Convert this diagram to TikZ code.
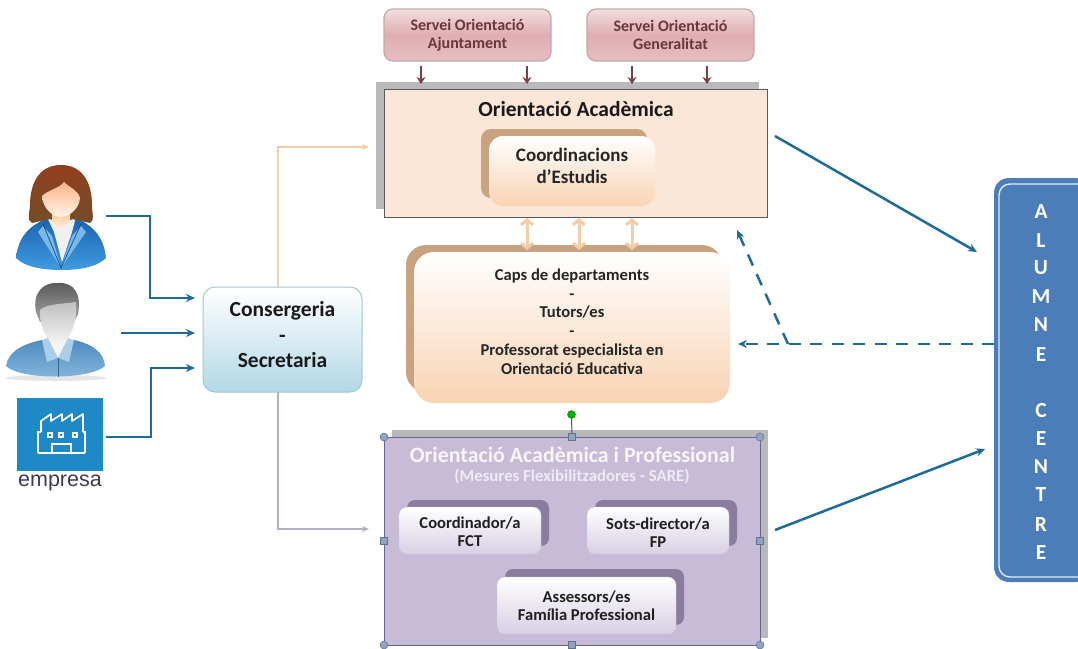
\documentclass[tikz,border=0pt]{standalone}
\usepackage{fontspec}
\setmainfont{Carlito}[Ligatures=TeX]
\newfontfamily\arialfont{Liberation Sans}
\usetikzlibrary{arrows.meta,calc}
\definecolor{flow}{HTML}{1F6B9A}
\definecolor{linkor}{HTML}{F3CDA6}
\definecolor{linkpu}{HTML}{B5ADCF}
\definecolor{wine}{HTML}{7A4048}
\definecolor{shgray}{HTML}{B9B9BB}
\definecolor{orpale}{HTML}{FCE6D8}
\definecolor{pupale}{HTML}{C7BBD8}
\definecolor{pudark}{HTML}{8A7C9E}
\definecolor{tanc}{HTML}{C9A27F}
\definecolor{handle}{HTML}{8FA3C2}
\definecolor{alblue}{HTML}{4B7DB8}
\definecolor{suitd}{HTML}{1C62B0}
\definecolor{suitl}{HTML}{3F9BE0}
\definecolor{shirtd}{HTML}{4F8CC0}
\definecolor{shirtl}{HTML}{86B8DE}
\definecolor{rosea}{HTML}{F3DEDF}
\definecolor{roseb}{HTML}{DFAEB2}
\definecolor{rosec}{HTML}{E6BEC1}
\definecolor{teal}{HTML}{B2D8E6}
\definecolor{peach}{HTML}{F9D3B4}
\definecolor{inkgray}{HTML}{3C3C58}
\tikzset{
  x=1pt,y=-1pt,
  topbox/.style={rounded corners=9pt,draw=wine!45,line width=1.2pt,top color=rosea,bottom color=rosec,middle color=roseb,
     font=\bfseries\fontsize{16}{18.5}\selectfont,text=wine!85!black,align=center,inner sep=0pt,minimum width=167pt,minimum height=52pt},
  softor/.style={rounded corners=14pt,top color=white,bottom color=peach,inner sep=0pt,align=center,
     font=\bfseries\fontsize{16.6}{18.8}\selectfont,text=black!85},
  softpu/.style={rounded corners=8pt,top color=white,bottom color=pupale!70!white,draw=pudark!40,line width=.4pt,inner sep=0pt,align=center,
     font=\bfseries\fontsize{16.6}{18}\selectfont,text=black!88,minimum width=#1},
  panelbox/.style={inner sep=0pt,line width=.9pt},
  flowarrow/.style={draw=flow,line width=2.5pt,-{Stealth[length=9pt,width=8pt]}},
  dasharrow/.style={flowarrow,dash pattern=on 12pt off 9.5pt},
  winearrow/.style={draw=wine,line width=2pt,-{Stealth[length=7pt,width=9pt]}},
  duplex/.style={draw=linkor,line width=3pt,{Straight Barb[length=5pt,width=12pt]}-{Straight Barb[length=5pt,width=12pt]}},
  feedor/.style={draw=linkor,line width=2.8pt,-{Stealth[length=7pt,width=6pt]}},
  feedpu/.style={draw=linkpu,line width=2.8pt,-{Stealth[length=7pt,width=6pt]}},
  sq/.style={draw=handle!70!black,fill=handle,line width=.5pt,minimum size=7pt,inner sep=0pt,shape=rectangle},
  circ/.style={draw=handle!70!black,fill=handle,line width=.5pt,minimum size=8pt,inner sep=0pt,shape=circle},
}
\begin{document}
\begin{tikzpicture}
\useasboundingbox (0,0) rectangle (1078,648);
\fill[white] (0,0) rectangle (1078,648);

% --- woman icon
\shade[top color=suitd,bottom color=suitl]
  (16,258) .. controls (18,238) and (28,226) .. (48,218) -- (76,218)
  .. controls (94,226) and (104,238) .. (106,258) .. controls (96,268) and (76,270) .. (62,270)
  .. controls (46,270) and (26,268) .. (16,258) -- cycle;
\fill[suitl!70!white] (43,226) -- (52,236) -- (61,268) -- (38,232) -- cycle;
\fill[suitl!70!white] (81,226) -- (72,236) -- (61,268) -- (86,232) -- cycle;
\fill[black!6] (47,217) -- (61,226) -- (76,217) -- (72,232) -- (62,262) -- (54,232) -- cycle;
\draw[suitd!60!black,line width=.6pt] (43,224) -- (61,268) -- (81,224);
\shade[top color=brown!70!red!70!black,bottom color=brown!60!black]
  (61,165) .. controls (84,165) and (92,185) .. (92,205)
  .. controls (92,214) and (95,220) .. (90,223) -- (72,219) -- (50,219) -- (32,223)
  .. controls (26,220) and (30,212) .. (30,205) .. controls (30,185) and (38,165) .. (61,165) -- cycle;
\shade[top color=orange!45!white,bottom color=orange!15!white]
  (52,210) -- (70,210) -- (70,222) -- (61,228) -- (52,222) -- cycle;
\shade[top color=red!30!orange!45!white,bottom color=orange!10!white]
  (42,196) .. controls (48,190) and (60,188) .. (64,182) .. controls (70,188) and (78,190) .. (80,198)
  .. controls (79,210) and (68,217) .. (61,217) .. controls (53,217) and (43,209) .. (42,196) -- cycle;
% --- man icon
\fill[black!10] (56,378) ellipse (50 and 3);
\shade[top color=shirtd,bottom color=shirtl]
  (6,366) .. controls (8,352) and (22,344) .. (42,340) -- (74,340)
  .. controls (92,344) and (104,352) .. (105,366) .. controls (90,380) and (20,380) .. (6,366) -- cycle;
\fill[black!4] (46,338) -- (58,358) -- (70,338) -- (66,336) -- (50,336) -- cycle;
\fill[shirtl!70!white] (42,340) -- (48,338) -- (58,358) -- (47,362) -- cycle;
\fill[shirtl!70!white] (74,340) -- (68,338) -- (58,358) -- (69,362) -- cycle;
\draw[shirtd!70!black,line width=.6pt] (58,358) -- (58,377);
\shade[top color=black!65,bottom color=black!35]
  (36,312) .. controls (32,292) and (44,282) .. (58,283) .. controls (74,282) and (82,294) .. (78,314)
  -- (74,322) -- (40,322) -- cycle;
\shade[top color=black!25,bottom color=black!4]
  (40,310) .. controls (46,304) and (62,304) .. (76,302) .. controls (78,322) and (70,342) .. (58,344)
  .. controls (46,342) and (40,328) .. (40,310) -- cycle;
% --- factory icon
\fill[cyan!75!blue!90!black] (17,398) rectangle (103,471);
\draw[white,line width=1.7pt,line join=round] (41,432) -- (41,421) -- (51,414) -- (51,421) -- (62,414) -- (62,421) -- (72,414) -- (72,421) -- (83,414) -- (83,432);
\draw[white,line width=1.7pt] (38,453) -- (38,432) -- (41,432) (83,432) -- (85,432) -- (85,453) (38,453) -- (85,453) (52,453) -- (52,444) -- (71,444) -- (71,453);
\foreach \q in {50,61,75} \draw[white,line width=1.1pt] (\q-2,433) rectangle (\q+2,437);
\node[font=\arialfont\fontsize{21.5}{22}\selectfont,text=inkgray,inner sep=0pt] (empresa) at (60,483) {empresa};
\coordinate (wom) at (106,216);
\coordinate (wel1) at (150,216);
\coordinate (man) at (121,333);
\coordinate (fac) at (106,437);
\coordinate (fel1) at (151,437);

% --- consergeria
\node[rounded corners=12pt,draw=teal!80!gray,line width=1pt,top color=white,bottom color=teal,
  minimum width=159pt,minimum height=105pt,inner sep=0pt,align=center,
  font=\bfseries\fontsize{21.5}{25.5}\selectfont,text=black!90] (cons) at (282.5,339.5) {Consergeria\\-\\Secretaria\rule[-10pt]{0pt}{0pt}};

% --- top panel
\fill[shgray] (376,82) rectangle (759,209);
\node[panelbox,draw=black!65,fill=orpale,minimum width=383pt,minimum height=128pt] (oa) at (575.5,153) {};
\node[font=\bfseries\fontsize{21.5}{22}\selectfont,text=black!90,inner sep=0pt] (oat) at (576,109) {Orientació Acadèmica};
\fill[tanc,rounded corners=10pt] (481,129) rectangle (647,198);
\node[softor,minimum width=166pt,minimum height=70pt,font=\bfseries\fontsize{19}{21.5}\selectfont] (coord) at (572,171) {Coordinacions\\d’Estudis\rule[-10pt]{0pt}{0pt}};

% --- service boxes
\node[topbox] (aj) at (467.5,35) {Servei Orientació\\Ajuntament};
\node[topbox] (ge) at (670.5,35) {Servei Orientació\\Generalitat};
\foreach \n/\q in {a/421,b/527}{
  \coordinate (s\n) at (\q,66); \coordinate (t\n) at (\q,84);
  \draw[winearrow] (s\n) -- (t\n);}
\foreach \n/\q in {c/632,d/707}{
  \coordinate (s\n) at (\q,66); \coordinate (t\n) at (\q,84);
  \draw[winearrow] (s\n) -- (t\n);}

% --- middle box
\fill[tanc,rounded corners=20pt] (406,245) rectangle (722,392);
\node[softor,rounded corners=20pt,minimum width=316pt,minimum height=151pt] (caps) at (572,327.5) {Caps de departaments\\-\\Tutors/es\\-\\Professorat especialista en\\Orientació Educativa\rule[-12pt]{0pt}{0pt}};
\foreach \q in {527,579,632}{
  \draw[duplex] (\q,218) -- (\q,250);}

% --- bottom panel
\fill[shgray] (392,430) rectangle (768,638);
\node[panelbox,draw=blue!30!black!60,fill=pupale,minimum width=376pt,minimum height=208pt] (oap) at (572,541) {};
\node[font=\bfseries\fontsize{21.9}{24}\selectfont,text=white!85!pupale,inner sep=0pt] (oapt) at (572.5,455) {Orientació Acadèmica i Professional};
\node[font=\bfseries\fontsize{16.8}{18}\selectfont,text=white!70!pupale,inner sep=0pt] (oaps) at (572,477) {(Mesures Flexibilitzadores - SARE)};
\fill[pudark,rounded corners=8pt] (407,500) rectangle (549,546);
\fill[pudark,rounded corners=8pt] (595,500) rectangle (737,546);
\fill[pudark,rounded corners=8pt] (505,569) rectangle (684,625);
\node[softpu=142pt,minimum height=47pt] (fct) at (470,530.5) {\rule{0pt}{15pt}Coordinador/a\\FCT};
\node[softpu=142pt,minimum height=47pt] (fp) at (658,530.5) {\rule{0pt}{15pt}Sots-director/a\\FP};
\node[softpu=179pt,minimum height=57pt] (ass) at (586.5,605.5) {Assessors/es\\Família Professional};

% handles
\node[circ] (h1) at (384,437) {};
\node[circ] (h2) at (760,437) {};
\node[circ] (h3) at (384,645) {};
\node[circ] (h4) at (760,645) {};
\node[sq] (h5) at (572,437) {};
\node[sq] (h6) at (572,645) {};
\node[sq] (h7) at (384,541) {};
\node[sq] (h8) at (760,541) {};
\node[circle,fill=green!70!black,draw=green!40!black,line width=.3pt,minimum size=8pt,inner sep=0pt] (rot) at (571.5,414.5) {};
\draw[blue!30!black!70,line width=1pt] (rot) -- (h5);

% --- alumne centre
\fill[alblue,rounded corners=15pt] (994,178) rectangle (1090,582);
\draw[white!85!alblue,line width=1.4pt,rounded corners=11pt] (999,184) rectangle (1090,577);
\foreach \l/\yy in {A/212,L/241,U/268,M/297,N/325,E/355,C/411,E/439,N/467,T/495,R/525,E/553}{
  \node[font=\bfseries\fontsize{21.5}{22}\selectfont,text=white,inner sep=0pt] at (1041,\yy) {\l};}

% --- connectors
\coordinate (c1) at (195,298);
\coordinate (c2) at (195,333);
\coordinate (c3) at (195,368);
\draw[flowarrow] (wom) -- (wel1) |- (c1);
\draw[flowarrow] (man) -- (c2);
\draw[flowarrow] (fac) -- (fel1) |- (c3);
\coordinate (oin) at (369,147);
\coordinate (pin) at (369,529);
\coordinate (cn) at (278,287);
\coordinate (cs) at (278,392);
\draw[feedor] (cn) |- (oin);
\draw[feedpu] (cs) |- (pin);
\coordinate (o1) at (775,136);
\coordinate (o2) at (977,252);
\draw[flowarrow] (o1) -- (o2);
\coordinate (p1) at (775,530);
\coordinate (p2) at (985,449);
\draw[flowarrow] (p1) -- (p2);
\coordinate (d1) at (994,344);
\coordinate (d2) at (738,344);
\coordinate (d3) at (788,344);
\coordinate (d4) at (737,230);
\draw[dasharrow] (d1) -- (d2);
\draw[dasharrow] (d3) -- (d4);
\end{tikzpicture}
\end{document}
